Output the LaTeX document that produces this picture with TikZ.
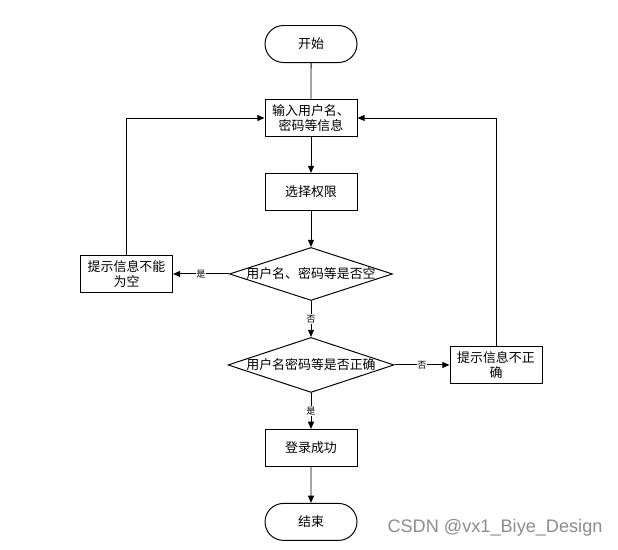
\documentclass[tikz,border=0pt]{standalone}
\usepackage{fontspec}
\newfontfamily\cjk{Noto Sans CJK SC}
\setsansfont{Liberation Sans}
\usetikzlibrary{arrows.meta,positioning,shapes.geometric,shapes.misc}

\begin{document}
\begin{tikzpicture}[node distance=0.9cm,line width=0.7pt,
 every node/.style={font=\cjk\fontsize{9.2}{10.6}\selectfont},
 term/.style={draw,rounded rectangle,minimum width=2.3cm,minimum height=0.925cm,inner sep=0pt},
 box/.style={draw,minimum width=2.3cm,minimum height=0.925cm,inner sep=0pt,align=center},
 dec/.style={draw,diamond,inner sep=0pt,minimum width=4.1cm,minimum height=1.35cm},
 lbl/.style={fill=white,inner sep=0.6pt,font=\cjk\fontsize{6.5}{7}\selectfont},
 arr/.style={-{Triangle[length=1.8mm,width=1.5mm]}}]
\useasboundingbox (0,0) rectangle (15.45,-13.725);
\node[term] (start) at (7.775,-1.1) {开始};
\node[box,below=of start] (inp) {输入用户名、\\密码等信息};
\node[box,below=of inp] (role) {选择权限};
\node[dec,below=of role,minimum width=4.075cm,minimum height=1.325cm,
 label=center:{用户名、密码等是否空}] (empty) {};
\node[box,left=1.4cm of empty] (warn1) {提示信息不能\\为空};
\node[dec,below=of empty,minimum width=4.15cm,minimum height=1.375cm,
 label=center:{用户名密码等是否正确}] (check) {};
\node[box,right=1.375cm of check] (warn2) {提示信息不正\\确};
\node[box,below=of check] (ok) {登录成功};
\node[term,below=of ok] (stop) {结束};
\node[text=black!45,font=\sffamily\fontsize{12.9}{14}\selectfont] (wm) at (12.375,-13.2) {CSDN @vx1\_Biye\_Design};
\draw (start)--(inp);
\draw[arr](inp)--(role);\draw[arr](role)--(empty);
\draw[arr](empty)-- node[lbl]{是} (warn1);
\draw[arr](empty)-- node[lbl]{否} (check);
\draw[arr](check)-- node[lbl]{否} (warn2);
\draw[arr](check)-- node[lbl]{是} (ok);
\draw[arr](ok)--(stop);
\draw[arr](warn1.north)|-(inp.west);
\draw[arr](warn2.north)|-(inp.east);
\end{tikzpicture}
\end{document}
